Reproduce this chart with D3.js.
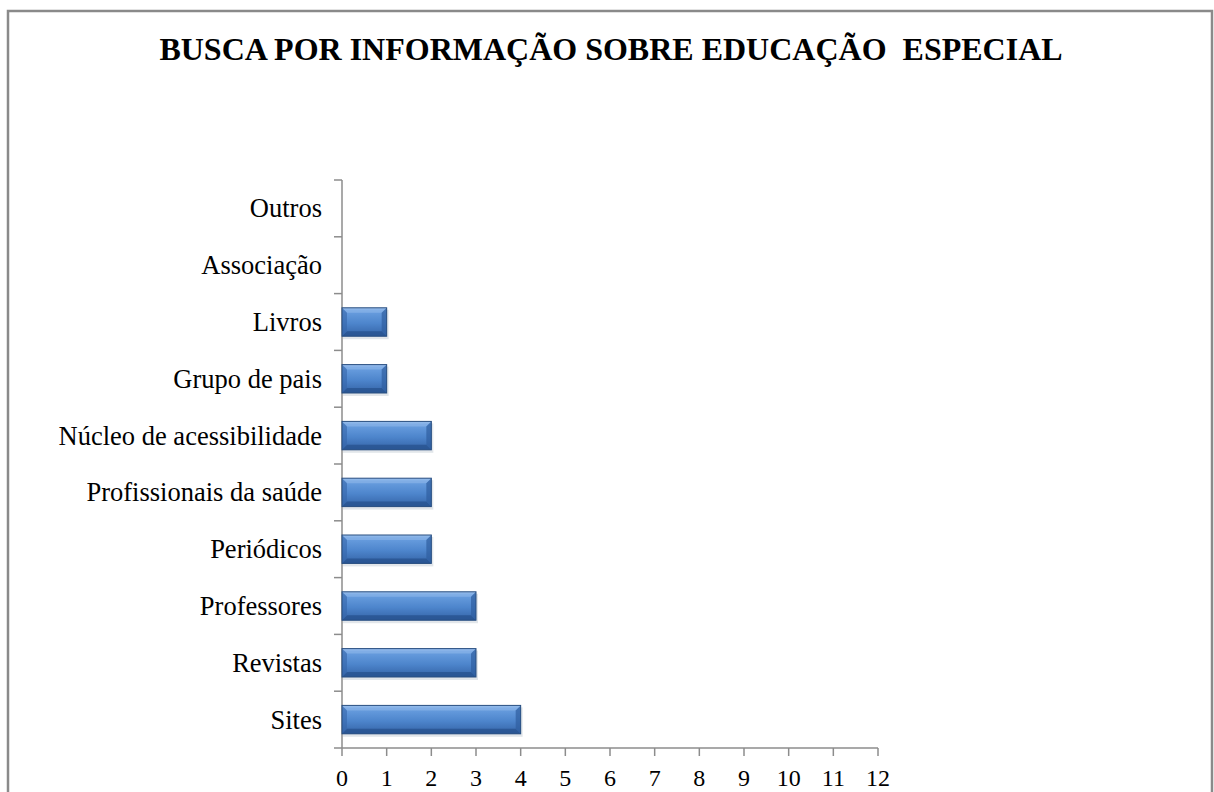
<!DOCTYPE html>
<html>
<head>
<meta charset="utf-8">
<script src="https://cdn.jsdelivr.net/npm/d3@7"></script>
<style>
  body { margin: 0; background: #fff; }
  svg { display: block; }
  text { font-family: "Liberation Serif", "Times New Roman", serif; }
</style>
</head>
<body>
<svg id="chart"></svg>
<script>
let w = 1214
let h = 792

// data (bottom to top as in the picture)
let categories = ["Sites", "Revistas", "Professores", "Periódicos", "Profissionais da saúde",
  "Núcleo de acessibilidade", "Grupo de pais", "Livros", "Associação", "Outros"]
let values = [4, 3, 3, 2, 2, 2, 1, 1, 0, 0]
let xTicks = d3.range(0, 13)
let title = "BUSCA POR INFORMAÇÃO SOBRE EDUCAÇÃO  ESPECIAL"

let svg = d3.select("#chart").attr("width", w).attr("height", h)

// chart border
svg.append("rect")
  .attr("x", 8).attr("y", 11)
  .attr("width", 1204).attr("height", 800)
  .attr("fill", "#fff")
  .attr("stroke", "#8a8a8a")
  .attr("stroke-width", 2.5)

svg.append("text")
  .attr("x", 611).attr("y", 60)
  .attr("text-anchor", "middle")
  .attr("font-weight", "bold")
  .attr("font-size", 32)
  .attr("fill", "#000")
  .style("white-space", "pre")
  .text(title)

let plotL = 342, plotR = 878, plotT = 180, plotB = 748

let x = d3.scaleLinear().domain([0, 12]).range([plotL, plotR])
let y = d3.scaleBand().domain(categories).range([plotB, plotT]).paddingInner(0.5).paddingOuter(0.25)
let yTickScale = d3.scaleLinear().domain([0, categories.length]).range([plotB, plotT])

let defs = svg.append("defs")
let grad = defs.append("linearGradient").attr("id", "barGrad")
  .attr("x1", 0).attr("y1", 0).attr("x2", 0).attr("y2", 1)
grad.append("stop").attr("offset", "0%").attr("stop-color", "#a9c9f0")
grad.append("stop").attr("offset", "10%").attr("stop-color", "#6a9fe0")
grad.append("stop").attr("offset", "55%").attr("stop-color", "#4d85cc")
grad.append("stop").attr("offset", "100%").attr("stop-color", "#3463a6")

// axes
let axisColor = "#8c8c8c"
svg.append("line")
  .attr("x1", plotL).attr("x2", plotL).attr("y1", plotT).attr("y2", plotB)
  .attr("stroke", axisColor).attr("stroke-width", 1.5)
svg.append("line")
  .attr("x1", plotL).attr("x2", plotR).attr("y1", plotB).attr("y2", plotB)
  .attr("stroke", axisColor).attr("stroke-width", 1.5)

svg.selectAll(".ytick")
  .data(d3.range(0, categories.length + 1))
  .join("line")
  .attr("class", "ytick")
  .attr("x1", plotL - 8).attr("x2", plotL)
  .attr("y1", d => yTickScale(d)).attr("y2", d => yTickScale(d))
  .attr("stroke", axisColor).attr("stroke-width", 1.5)

svg.selectAll(".xtick")
  .data(xTicks)
  .join("line")
  .attr("class", "xtick")
  .attr("x1", d => x(d)).attr("x2", d => x(d))
  .attr("y1", plotB).attr("y2", plotB + 8)
  .attr("stroke", axisColor).attr("stroke-width", 1.5)

svg.selectAll(".xlabel")
  .data(xTicks)
  .join("text")
  .attr("class", "xlabel")
  .attr("x", d => x(d))
  .attr("y", 786)
  .attr("text-anchor", "middle")
  .attr("font-size", 24)
  .attr("fill", "#000")
  .text(d => d)

svg.selectAll(".ylabel")
  .data(categories)
  .join("text")
  .attr("class", "ylabel")
  .attr("x", 322)
  .attr("y", d => y(d) + y.bandwidth() / 2 + 9)
  .attr("text-anchor", "end")
  .attr("font-size", 26.5)
  .attr("fill", "#000")
  .text(d => d)

// bevelled bars
let bars = svg.selectAll(".bar")
  .data(categories.map((c, i) => ({ c: c, v: values[i] })).filter(d => d.v > 0))
  .join("g")
  .attr("class", "bar")

let bev = 5
// soft shadow
bars.append("rect")
  .attr("x", x(0) + 1)
  .attr("y", d => y(d.c) + 2)
  .attr("width", d => x(d.v) - x(0) + 1)
  .attr("height", y.bandwidth() + 1)
  .attr("fill", "#cfd5dc")
  .attr("opacity", 0.6)
bars.append("rect")
  .attr("x", x(0))
  .attr("y", d => y(d.c))
  .attr("width", d => x(d.v) - x(0))
  .attr("height", y.bandwidth())
  .attr("fill", "url(#barGrad)")

// facets: top, bottom, left, right
bars.append("polygon")
  .attr("points", d => {
    let x0 = x(0), x1 = x(d.v), y0 = y(d.c)
    return [[x0, y0], [x1, y0], [x1 - bev, y0 + bev], [x0 + bev, y0 + bev]].join(" ")
  })
  .attr("fill", "#8fb8ea").attr("opacity", 0.6)
bars.append("polygon")
  .attr("points", d => {
    let x0 = x(0), x1 = x(d.v), y1 = y(d.c) + y.bandwidth()
    return [[x0, y1], [x1, y1], [x1 - bev, y1 - bev], [x0 + bev, y1 - bev]].join(" ")
  })
  .attr("fill", "#27528e").attr("opacity", 0.75)
bars.append("polygon")
  .attr("points", d => {
    let x0 = x(0), y0 = y(d.c), y1 = y0 + y.bandwidth()
    return [[x0, y0], [x0 + bev, y0 + bev], [x0 + bev, y1 - bev], [x0, y1]].join(" ")
  })
  .attr("fill", "#3566aa").attr("opacity", 0.6)
bars.append("polygon")
  .attr("points", d => {
    let x1 = x(d.v), y0 = y(d.c), y1 = y0 + y.bandwidth()
    return [[x1, y0], [x1 - bev, y0 + bev], [x1 - bev, y1 - bev], [x1, y1]].join(" ")
  })
  .attr("fill", "#2f5e9f").attr("opacity", 0.7)
bars.append("rect")
  .attr("x", x(0))
  .attr("y", d => y(d.c))
  .attr("width", d => x(d.v) - x(0))
  .attr("height", y.bandwidth())
  .attr("fill", "none")
  .attr("stroke", "#284e80")
  .attr("stroke-width", 1)
</script>
</body>
</html>
